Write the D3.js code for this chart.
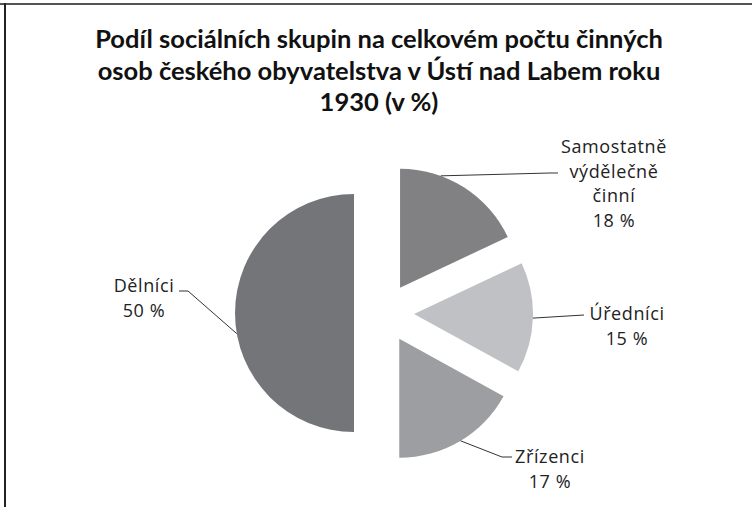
<!DOCTYPE html>
<html>
<head>
  <script src="https://d3js.org/d3.v7.min.js"></script>
  <style>
    html, body {
      margin: 0px;
      padding: 0px;
      background: #fff;
      font-family: Lato, "Open Sans", sans-serif;
    }
    .title {
      font-size: 25.5px;
      font-weight: bold;
      fill: #111;
    }
    .label {
      font-family: "Open Sans", sans-serif;
      font-size: 18px;
      letter-spacing: 0.6px;
      font-weight: 400;
      fill: #222;
    }
  </style>
</head>
<body>
  <div id="chart"></div>
  <script>
    const width = 752;
    const height = 507;

    // data
    const groups = ["Samostatně výdělečně činní", "Úředníci", "Zřízenci", "Dělníci"];
    const shares = [18, 15, 17, 50];
    const colors = ["#818184", "#c0c1c4", "#9d9ea1", "#747579"];
    const titleLines = [
      "Podíl sociálních skupin na celkovém počtu činných",
      "osob českého obyvatelstva v Ústí nad Labem roku",
      "1930 (v %)"
    ];

    const svg = d3.select("#chart")
      .append("svg")
      .attr("width", width)
      .attr("height", height);

    // frame (top and left edge only)
    svg.append("rect").attr("x", 0).attr("y", 3).attr("width", width).attr("height", 2).attr("fill", "#555");
    svg.append("rect").attr("x", 4).attr("y", 3).attr("width", 2).attr("height", height).attr("fill", "#222");

    svg.selectAll(".title")
      .data(titleLines)
      .join("text")
        .attr("class", "title")
        .attr("x", 379)
        .attr("y", (d, i) => 48 + i * 31.5)
        .attr("text-anchor", "middle")
        .text(d => d);

    const cx = 384, cy = 313, radius = 119, explode = 30;

    const pie = d3.pie().sort(null).value(d => d.value);
    const arc = d3.arc().innerRadius(0).outerRadius(radius);

    const data = pie(groups.map((g, i) => ({name: g, value: shares[i]})));

    const slices = svg.append("g")
      .attr("transform", `translate(${cx},${cy})`);

    slices.selectAll("path")
      .data(data)
      .join("path")
        .attr("transform", d => {
          const a = (d.startAngle + d.endAngle) / 2;
          return `translate(${explode * Math.sin(a)},${-explode * Math.cos(a)})`;
        })
        .attr("d", arc)
        .attr("fill", (d, i) => colors[i]);

    // label positions, leader lines (rim = angle in deg where the line leaves the slice)
    const labels = [
      {lines: ["Samostatně", "výdělečně", "činní"], x: 614, y: 153, rim: 20, pts: [[550, 173], [558, 173]]},
      {lines: ["Úředníci"], x: 627, y: 320, rim: 92, pts: [[584, 315]]},
      {lines: ["Zřízenci"], x: 550, y: 463, rim: 149, pts: [[502, 457], [512, 457]]},
      {lines: ["Dělníci"], x: 144, y: 292, rim: 260, pts: [[188, 291], [179, 291]]}
    ];

    labels.forEach((l, i) => {
      const d = data[i];
      const a = (d.startAngle + d.endAngle) / 2;
      const ox = cx + explode * Math.sin(a);
      const oy = cy - explode * Math.cos(a);
      const r = l.rim * Math.PI / 180;
      const start = [ox + radius * Math.sin(r), oy - radius * Math.cos(r)];
      svg.append("path")
        .attr("d", d3.line()([start].concat(l.pts)))
        .attr("fill", "none")
        .attr("stroke", "#333")
        .attr("stroke-width", 1);

      const t = svg.append("text")
        .attr("class", "label")
        .attr("text-anchor", "middle");
      l.lines.concat([shares[i] + " %"]).forEach((s, j) => {
        t.append("tspan")
          .attr("x", l.x)
          .attr("y", l.y + j * 24.7)
          .text(s);
      });
    });
  </script>
</body>
</html>
